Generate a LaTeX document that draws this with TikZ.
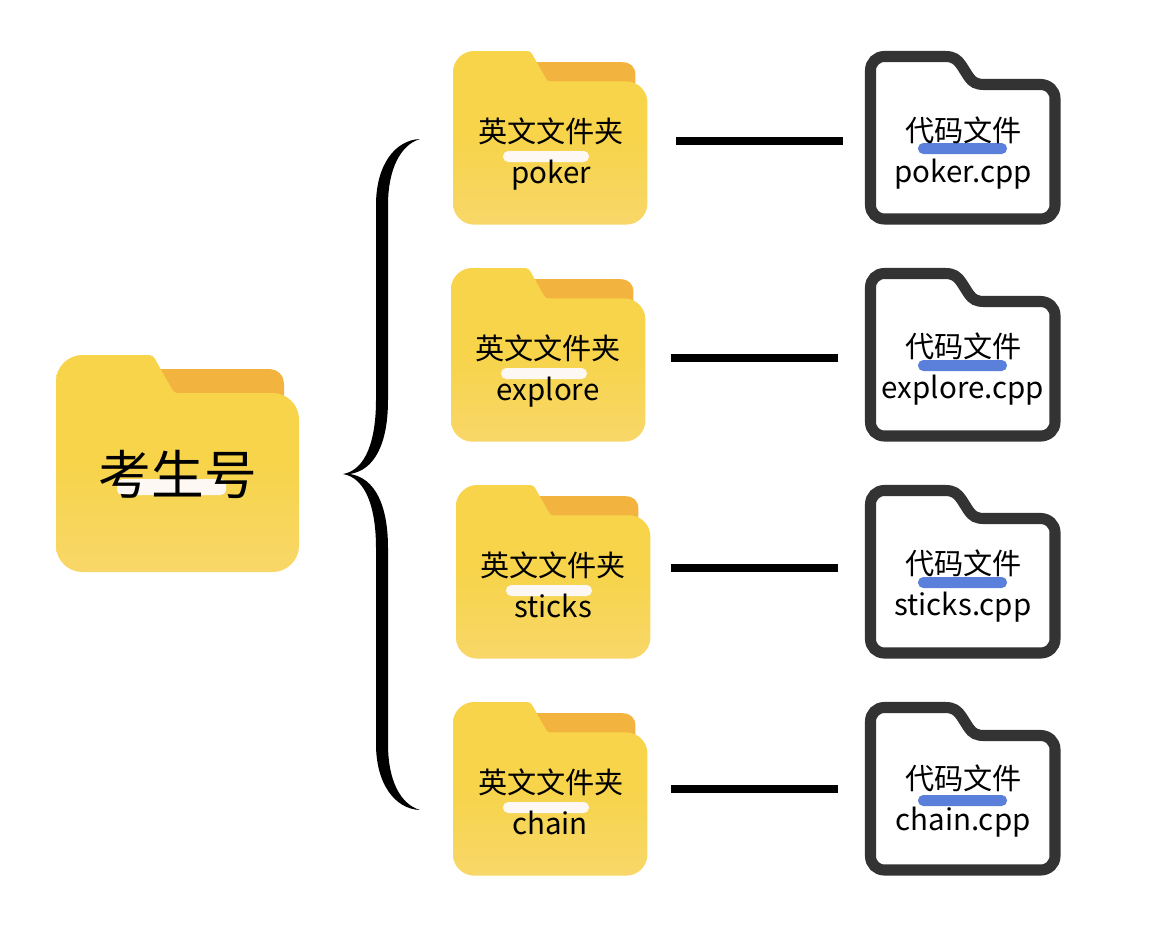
\documentclass[tikz,border=0pt]{standalone}
\usepackage{fontspec}
\setmainfont{Noto Sans CJK SC}
\definecolor{folderTop}{HTML}{F7D44A}
\definecolor{folderBot}{HTML}{F8D769}
\definecolor{folderBack}{HTML}{F3B33F}
\definecolor{barWhite}{HTML}{FDF8F3}
\definecolor{barBlue}{HTML}{5B80DC}
\definecolor{fileEdge}{HTML}{333333}
\pgfdeclareverticalshading{folderfill}{100bp}{color(0bp)=(folderBot); color(25bp)=(folderBot); color(50bp)=(folderTop); color(75bp)=(folderTop); color(100bp)=(folderTop)}
\tikzset{
    link/.style={line width=4.2pt},
    txtcn/.style={anchor=base,inner sep=0pt,font=\fontsize{16.6}{18}\selectfont},
    txten/.style={anchor=base,inner sep=0pt,font=\fontsize{16.8}{18}\selectfont},
    txtbig/.style={anchor=base,inner sep=0pt,font=\fontsize{30}{32}\selectfont},
    pics/folder/.style={code={
        \fill[folderBack] (100,14) -- (212,14) .. controls (222,14) and (228,20) .. (228,30) -- (228,60) -- (100,60) -- cycle;
        \shade[shading=folderfill] (0,26) .. controls (0,12) and (12,0) .. (26,0) -- (93,0) .. controls (96,0) and (98,2) .. (99,4) -- (116,34) .. controls (117,37) and (119,38) .. (122,38) -- (217,38) .. controls (231,38) and (243,50) .. (243,64) -- (243,191) .. controls (243,205) and (231,217) .. (217,217) -- (26,217) .. controls (12,217) and (0,205) .. (0,191) -- cycle;
    }},
    pics/codefile/.style={code={
        \draw[fileEdge,fill=white,line width=6.3pt] (0,14) .. controls (0,6) and (6,0) .. (14,0) -- (75,0) .. controls (83,0) and (87,3) .. (91,9) -- (98,20) .. controls (102,26) and (106,28) .. (114,28) -- (170,28) .. controls (178,28) and (184.5,34) .. (184.5,42) -- (184.5,148.5) .. controls (184.5,156.5) and (178,162.5) .. (170,162.5) -- (14,162.5) .. controls (6,162.5) and (0,156.5) .. (0,148.5) -- cycle;
    }},
}

\begin{document}
\begin{tikzpicture}[x=.02cm,y=-.02cm]
    \useasboundingbox (0,0) rectangle (1170,948);
    % root folder ============================================
    \pic at (56,355) {folder};
    \fill[barWhite,rounded corners=3pt] (117,479) rectangle (226,495);
    \node[txtbig] (root) at (178,494) {考生号};
    % brace ==================================================
    \fill[black] (420,139) .. controls (395,140) and (376,165) .. (376,205) -- (376,400) .. controls (376,440) and (366,470) .. (343,474) .. controls (366,478) and (376,508) .. (376,548) -- (376,744) .. controls (376,784) and (395,809) .. (420,810) .. controls (400,804) and (388,780) .. (388,744) -- (388,548) .. controls (388,505) and (375,478) .. (350,474) .. controls (375,470) and (388,443) .. (388,400) -- (388,205) .. controls (388,170) and (400,145) .. (420,139) -- cycle;
    % folders ================================================
    \pic[scale=.8] at (453,51) {folder};
    \fill[barWhite,rounded corners=3pt] (503,151) rectangle (589,162);
    \node[txtcn] (D1cn) at (551,142) {英文文件夹};
    \node[txten] (D1)   at (551,183) {poker};
    \pic[scale=.8] at (451,268) {folder};
    \fill[barWhite,rounded corners=3pt] (501,368) rectangle (587,379);
    \node[txtcn] (D2cn) at (548,359) {英文文件夹};
    \node[txten] (D2)   at (548,400) {explore};
    \pic[scale=.8] at (456,485) {folder};
    \fill[barWhite,rounded corners=3pt] (506,585) rectangle (592,596);
    \node[txtcn] (D3cn) at (553,576) {英文文件夹};
    \node[txten] (D3)   at (553,617) {sticks};
    \pic[scale=.8] at (453,702) {folder};
    \fill[barWhite,rounded corners=3pt] (503,802) rectangle (589,813);
    \node[txtcn] (D4cn) at (551,793) {英文文件夹};
    \node[txten] (D4)   at (550,834) {chain};
    % files ==================================================
    \pic at (870.5,56.5) {codefile};
    \fill[barBlue,rounded corners=3pt] (918,143) rectangle (1007,154);
    \node[txtcn] (F1cn) at (963.5,141) {代码文件};
    \node[txten] (F1)   at (963,182) {poker.cpp};
    \pic at (870.5,273.5) {codefile};
    \fill[barBlue,rounded corners=3pt] (918,360) rectangle (1007,371);
    \node[txtcn] (F2cn) at (963.5,357) {代码文件};
    \node[txten] (F2)   at (963,398) {explore.cpp};
    \pic at (870.5,490.5) {codefile};
    \fill[barBlue,rounded corners=3pt] (918,577) rectangle (1007,588);
    \node[txtcn] (F3cn) at (963.5,574) {代码文件};
    \node[txten] (F3)   at (963,615) {sticks.cpp};
    \pic at (870.5,707.5) {codefile};
    \fill[barBlue,rounded corners=3pt] (918,795) rectangle (1007,806);
    \node[txtcn] (F4cn) at (963.5,789) {代码文件};
    \node[txten] (F4)   at (963,830) {chain.cpp};
    % links ==================================================
    \coordinate (L1a) at (676,141); \coordinate (L1b) at (843,141);
    \coordinate (L2a) at (671,358); \coordinate (L2b) at (838,358);
    \coordinate (L3a) at (671,568); \coordinate (L3b) at (838,568);
    \coordinate (L4a) at (671,789); \coordinate (L4b) at (838,789);
    \draw[link] (L1a) -- (L1b);
    \draw[link] (L2a) -- (L2b);
    \draw[link] (L3a) -- (L3b);
    \draw[link] (L4a) -- (L4b);
\end{tikzpicture}
\end{document}
